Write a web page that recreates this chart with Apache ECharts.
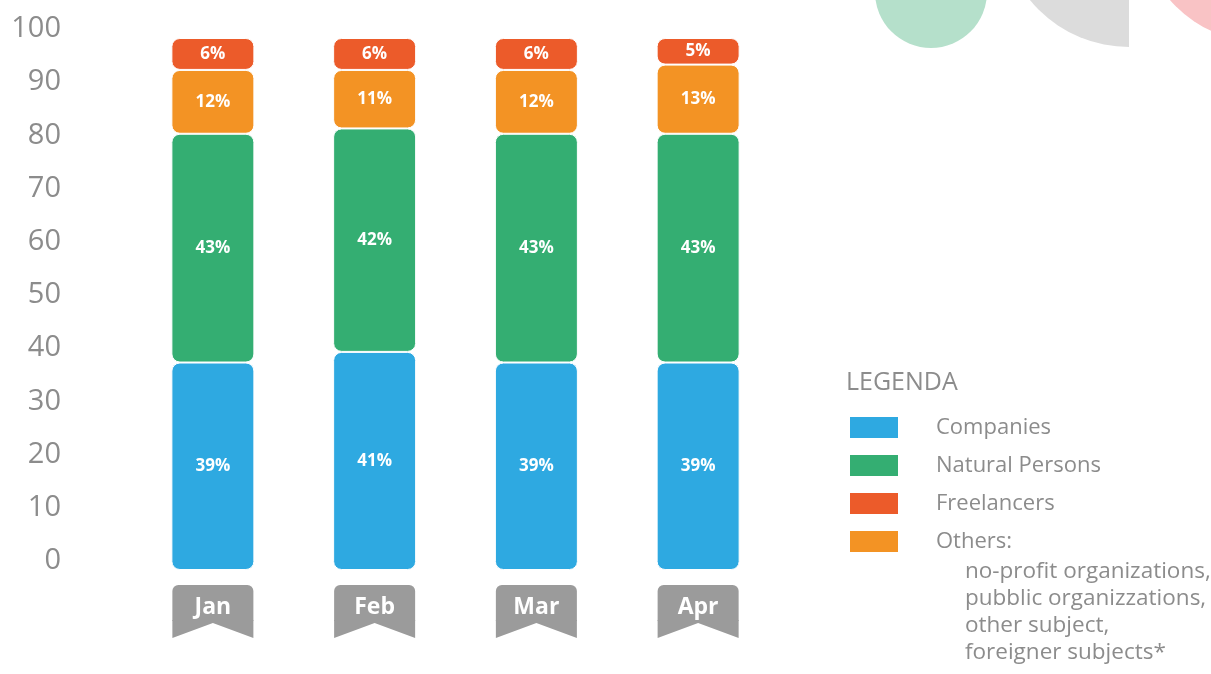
<!DOCTYPE html>
<html>
<head>
<meta charset="utf-8">
<script src="https://cdn.jsdelivr.net/npm/echarts@6/dist/echarts.min.js"></script>
<style>
  html, body { margin: 0; padding: 0; background: #fff; }
  #main { width: 1211px; height: 674px; }
</style>
</head>
<body>
<div id="main"></div>
<script>
  var months = ['Jan', 'Feb', 'Mar', 'Apr']
  var companies = [39, 41, 39, 39]
  var naturalPersons = [43, 42, 43, 43]
  var others = [12, 11, 12, 13]
  var freelancers = [6, 6, 6, 5]
  var yTicks = { min: 0, max: 100, interval: 10 }
  var othersNote = ['no-profit organizations,', 'pubblic organizzations,', 'other subject,', 'foreigner subjects*']

  var font = '"Open Sans", "Noto Sans", sans-serif'
  var grayText = '#8c8c8c'

  function barSeries(name, data, color) {
    return {
      name: name,
      type: 'bar',
      stack: 'total',
      data: data,
      barWidth: 83,
      itemStyle: {
        color: color,
        borderColor: '#fff',
        borderWidth: 1,
        borderRadius: 8
      },
      label: {
        show: true,
        position: 'inside',
        formatter: '{c}%',
        color: '#fff',
        fontFamily: font,
        fontWeight: 'bold',
        fontSize: 17
      }
    }
  }

  var myChart = echarts.init(document.getElementById('main'))

  var option = {
    animation: false,
    textStyle: { fontFamily: font },
    grid: { left: 132, right: 432, top: 38, bottom: 104 },
    xAxis: {
      type: 'category',
      data: months,
      axisLine: { show: false },
      axisTick: { show: false },
      axisLabel: { show: false }
    },
    yAxis: {
      type: 'value',
      min: yTicks.min,
      max: yTicks.max,
      interval: yTicks.interval,
      axisLine: { show: false },
      axisTick: { show: false },
      splitLine: { show: false },
      axisLabel: {
        margin: 71,
        color: grayText,
        fontSize: 29,
        lineHeight: 18,
        fontFamily: font,
        verticalAlign: 'bottom'
      }
    },
    legend: {
      orient: 'vertical',
      left: 848,
      top: 415,
      padding: 0,
      itemWidth: 50,
      itemHeight: 23,
      itemGap: 13,
      icon: 'rect',
      selectedMode: false,
      data: ['Companies', 'Natural Persons', 'Freelancers', 'Others'],
      formatter: function (name) { return name === 'Others' ? 'Others:' : name },
      textStyle: {
        color: grayText,
        fontSize: 22,
        fontFamily: font,
        padding: [0, 0, 0, 32]
      }
    },
    graphic: [
      { type: 'circle', shape: { cx: 931, cy: -8, r: 56 }, style: { fill: '#b5e0cb' } },
      { type: 'sector', shape: { cx: 1129, cy: -81, r: 128, startAngle: Math.PI / 2, endAngle: Math.PI }, style: { fill: '#dcdcdc' } },
      { type: 'circle', shape: { cx: 1262, cy: -80, r: 122 }, style: { fill: '#f9c3c5' } },
      {
        type: 'text', left: 846, top: 370,
        style: { text: 'LEGENDA', fill: grayText, fontSize: 25, fontFamily: font }
      },
      {
        type: 'text', left: 965, top: 558,
        style: { text: othersNote.join('\n'), fill: grayText, fontSize: 22.5, lineHeight: 27, fontFamily: font }
      }
    ],
    series: [
      barSeries('Companies', companies, '#2ea9e1'),
      barSeries('Natural Persons', naturalPersons, '#34ae72'),
      barSeries('Others', others, '#f39324'),
      barSeries('Freelancers', freelancers, '#ec5b2a'),
      {
        name: 'months',
        type: 'custom',
        clip: false,
        silent: true,
        data: months.map(function (m) { return 0 }),
        renderItem: function (params, api) {
          var p = api.coord([api.value(0), 0])
          var cx = p[0], top = p[1] + 15, hw = 40.5
          return {
            type: 'group',
            children: [
              { type: 'rect', shape: { x: cx - hw, y: top, width: hw * 2, height: 36, r: [6, 6, 0, 0] }, style: { fill: '#9b9b9b' } },
              { type: 'polygon', shape: { points: [[cx - hw, top + 35], [cx + hw, top + 35], [cx + hw, top + 53], [cx, top + 38], [cx - hw, top + 53]] }, style: { fill: '#9b9b9b' } },
              {
                type: 'text',
                style: {
                  text: months[params.dataIndex], x: cx, y: top + 22,
                  align: 'center', verticalAlign: 'middle',
                  fill: '#fff', fontSize: 23, fontWeight: 'bold', fontFamily: font
                }
              }
            ]
          }
        }
      }
    ]
  }

  myChart.setOption(option)
</script>
</body>
</html>
